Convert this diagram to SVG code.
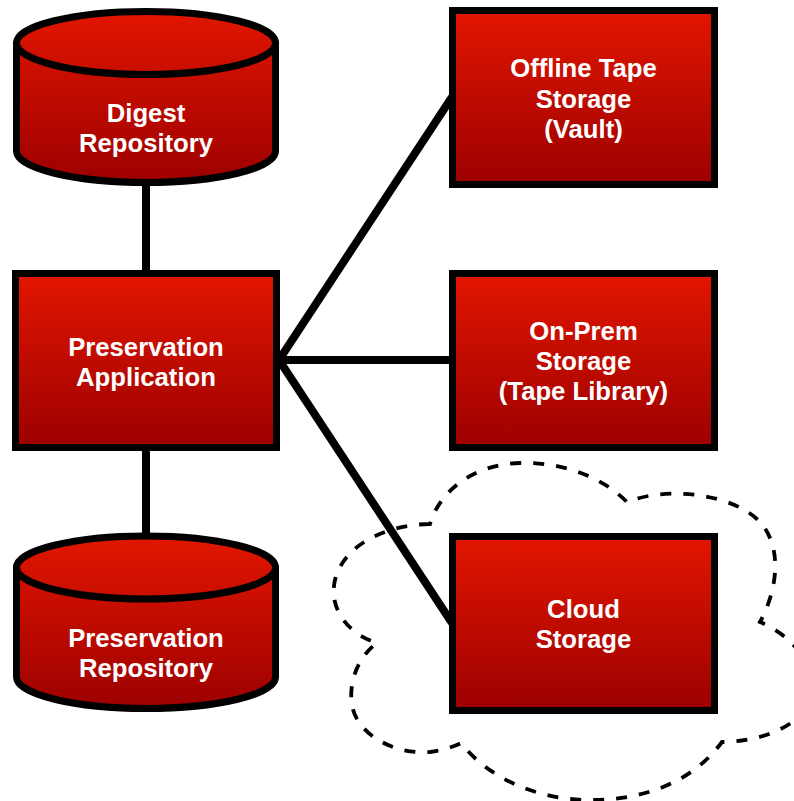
<svg xmlns="http://www.w3.org/2000/svg" width="794" height="801" viewBox="0 0 794 801">
  <defs>
    <linearGradient id="gBox" x1="0" y1="0" x2="0" y2="1">
      <stop offset="0" stop-color="#e21600"/>
      <stop offset="1" stop-color="#9c0000"/>
    </linearGradient>
    <linearGradient id="gCylTop" gradientUnits="userSpaceOnUse" x1="0" y1="10" x2="0" y2="184">
      <stop offset="0" stop-color="#e21600"/>
      <stop offset="1" stop-color="#9c0000"/>
    </linearGradient>
    <linearGradient id="gCylBot" gradientUnits="userSpaceOnUse" x1="0" y1="536" x2="0" y2="710">
      <stop offset="0" stop-color="#e21600"/>
      <stop offset="1" stop-color="#9c0000"/>
    </linearGradient>
  </defs>
  <style>
    .box { fill: url(#gBox); stroke: #000; stroke-width: 7; }
    .cyl { stroke: #000; stroke-width: 7; stroke-linejoin: round; }
    .lbl { font-family: "Liberation Sans", Arial, sans-serif; font-weight: bold; font-size: 25.7px; fill: #fff; text-anchor: middle; }
    .conn { stroke: #000; stroke-width: 8; fill: none; }
    .cloud { fill: none; stroke: #000; stroke-width: 3.8; stroke-dasharray: 11 12; }
  </style>

  <g id="cloud">
    <path class="cloud" d="M 430,524 C 395,524 345,540 335,580 C 328,610 350,635 377,643 C 360,655 348,680 352,705 C 357,735 395,755 430,752 C 445,750 455,746 461,743 C 490,780 540,800 590,800 C 640,800 690,785 722,742 C 760,742 810,725 812,690 C 813,660 790,635 760,622 C 775,595 785,550 760,522 C 735,495 670,485 627,502 C 600,475 560,462 520,463 C 475,464 440,490 430,524 Z"/>
  </g>

  <g id="connectors">
    <line class="conn" x1="146" y1="184" x2="146" y2="274"/>
    <line class="conn" x1="146" y1="447" x2="146" y2="537"/>
    <line class="conn" x1="279" y1="360" x2="452" y2="360"/>
    <line class="conn" x1="279" y1="360" x2="452" y2="97"/>
    <line class="conn" x1="279" y1="360" x2="452" y2="623"/>
  </g>

  <g id="digest-repository">
    <path class="cyl" fill="url(#gCylTop)" d="M 16.5,43 L 16.5,151 A 129.5,31.5 0 0 0 275.5,151 L 275.5,43 Z"/>
    <ellipse class="cyl" fill="url(#gCylTop)" cx="146" cy="43" rx="129.5" ry="31.5"/>
    <text class="lbl" x="146" y="122">Digest</text>
    <text class="lbl" x="146" y="152">Repository</text>
  </g>

  <g id="preservation-application">
    <rect class="box" x="15.5" y="273.5" width="261" height="174"/>
    <text class="lbl" x="146" y="356">Preservation</text>
    <text class="lbl" x="146" y="386">Application</text>
  </g>

  <g id="preservation-repository">
    <path class="cyl" fill="url(#gCylBot)" d="M 16.5,567.5 L 16.5,677 A 129.5,31.5 0 0 0 275.5,677 L 275.5,567.5 Z"/>
    <ellipse class="cyl" fill="url(#gCylBot)" cx="146" cy="567.5" rx="129.5" ry="31.5"/>
    <text class="lbl" x="146" y="647">Preservation</text>
    <text class="lbl" x="146" y="677">Repository</text>
  </g>

  <g id="offline-tape-storage">
    <rect class="box" x="452.5" y="10.5" width="262" height="174"/>
    <text class="lbl" x="583.5" y="77">Offline Tape</text>
    <text class="lbl" x="583.5" y="108">Storage</text>
    <text class="lbl" x="583.5" y="138">(Vault)</text>
  </g>

  <g id="on-prem-storage">
    <rect class="box" x="452.5" y="273.5" width="262" height="174"/>
    <text class="lbl" x="583.5" y="340">On-Prem</text>
    <text class="lbl" x="583.5" y="370">Storage</text>
    <text class="lbl" x="583.5" y="400">(Tape Library)</text>
  </g>

  <g id="cloud-storage">
    <rect class="box" x="452.5" y="536.5" width="262" height="174"/>
    <text class="lbl" x="583.5" y="618">Cloud</text>
    <text class="lbl" x="583.5" y="648">Storage</text>
  </g>
</svg>
